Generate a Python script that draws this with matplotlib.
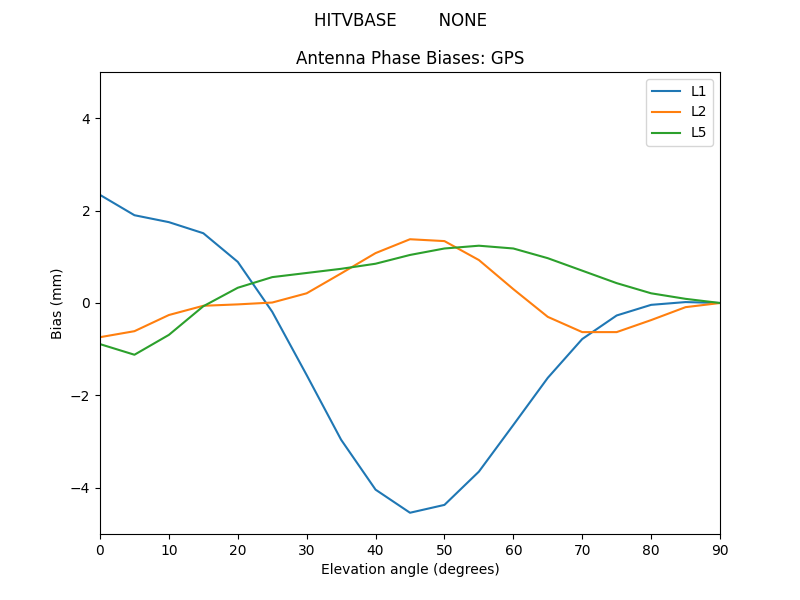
import matplotlib
matplotlib.use('Agg')
from matplotlib import pyplot as plt
import numpy as np

elev = np.arange(0, 95, 5)
l1 = [2.34, 1.90, 1.75, 1.51, 0.89, -0.19, -1.56, -2.96, -4.04, -4.54,
      -4.37, -3.65, -2.64, -1.62, -0.78, -0.27, -0.04, 0.02, 0.0]
l2 = [-0.74, -0.61, -0.26, -0.06, -0.03, 0.01, 0.21, 0.64, 1.08, 1.38,
      1.34, 0.93, 0.30, -0.30, -0.63, -0.63, -0.37, -0.09, 0.0]
l5 = [-0.89, -1.12, -0.69, -0.07, 0.33, 0.56, 0.65, 0.74, 0.85, 1.04,
      1.18, 1.24, 1.18, 0.97, 0.70, 0.43, 0.21, 0.09, 0.0]

fig, ax = plt.subplots(figsize=(8, 6), dpi=100)
fig.suptitle("HITVBASE        NONE")
ax.set_title("Antenna Phase Biases: GPS")
ax.plot(elev, l1, label="L1")
ax.plot(elev, l2, label="L2")
ax.plot(elev, l5, label="L5")
ax.set_xlim(0, 90)
ax.set_ylim(-5, 5)
ax.set_xlabel("Elevation angle (degrees)")
ax.set_ylabel("Bias (mm)")
ax.legend(loc="upper right")
fig.savefig("out.png")
plt.close(fig)
